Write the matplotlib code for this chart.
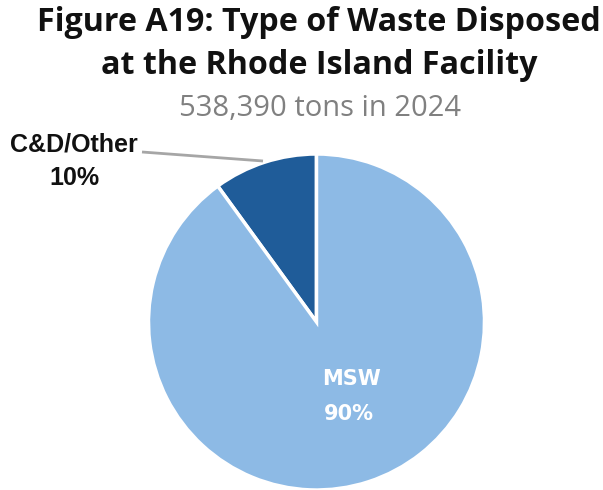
import matplotlib
matplotlib.use("Agg")
import matplotlib.pyplot as plt

categories = ["C&D/Other", "MSW"]
shares = [10, 90]
colors = ["#1F5C99", "#8DBAE5"]
title_lines = ["Figure A19: Type of Waste Disposed", "at the Rhode Island Facility"]
subtitle = "538,390 tons in 2024"

W, H = 603, 490
fig = plt.figure(figsize=(W / 100, H / 100), dpi=100)
ax = fig.add_axes([0, 0, 1, 1])
ax.set_xlim(0, W)
ax.set_ylim(0, H)
ax.set_aspect("equal")
ax.axis("off")

cx, cy, r = 316.5, H - 322, 168
wedges, _ = ax.pie(shares, colors=colors, startangle=90, counterclock=True,
                   center=(cx, cy), radius=r,
                   wedgeprops=dict(edgecolor="white", linewidth=2.5))
ax.set_xlim(0, W)
ax.set_ylim(0, H)

# titles
ax.text(318.5, H - 31, title_lines[0], ha="center", va="baseline",
        fontsize=23.2, fontweight="bold", family="Open Sans", color="#111111")
ax.text(319.5, H - 74, title_lines[1], ha="center", va="baseline",
        fontsize=23.2, fontweight="bold", family="Open Sans", color="#111111")
ax.text(320, H - 116, subtitle, ha="center", va="baseline",
        fontsize=21, family="Open Sans", color="#808080")

# C&D label with leader line
ax.plot([142, 263], [H - 152, H - 161], color="#A6A6A6", linewidth=2,
        solid_capstyle="butt")
ax.text(74, H - 152, f"{categories[0]}", ha="center", va="baseline",
        fontsize=18, fontweight="bold", family="Liberation Sans", color="#111111")
ax.text(74, H - 185, f"{shares[0]}%", ha="center", va="baseline",
        fontsize=18, fontweight="bold", family="Liberation Sans", color="#111111")

# MSW label
ax.text(351, H - 385, categories[1], ha="center", va="baseline",
        fontsize=15, fontweight="bold", family="DejaVu Sans", color="white")
ax.text(349, H - 420, f"{shares[1]}%", ha="center", va="baseline",
        fontsize=15, fontweight="bold", family="DejaVu Sans", color="white")

fig.savefig("out.png", dpi=100, facecolor="white")
